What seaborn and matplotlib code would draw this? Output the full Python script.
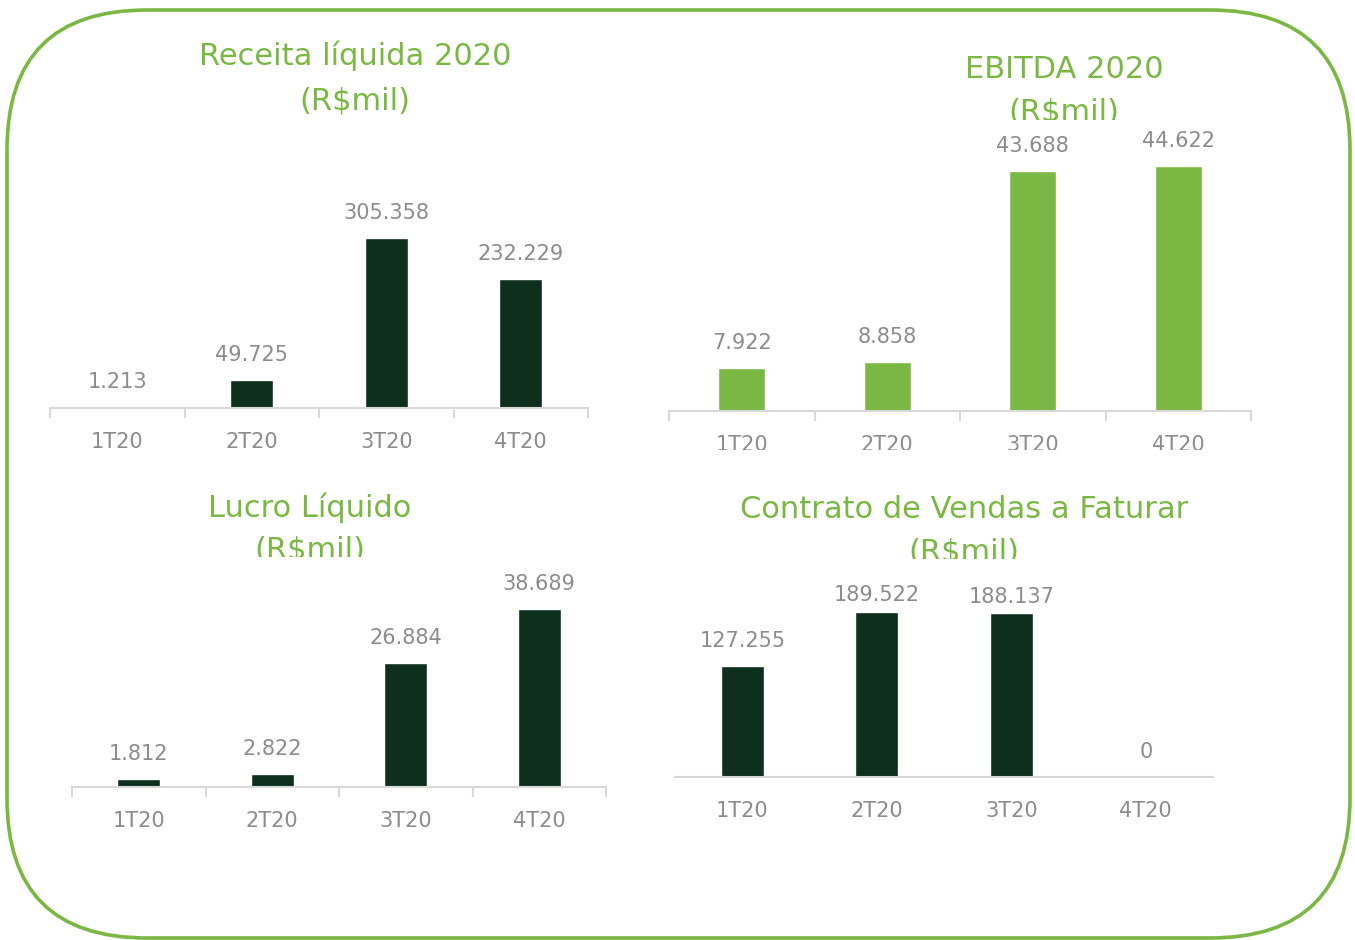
import matplotlib
matplotlib.use("Agg")
import matplotlib.pyplot as plt
import seaborn as sns
from matplotlib.patches import FancyBboxPatch
from matplotlib.transforms import Bbox, IdentityTransform

# data (R$ mil, shown with "." as thousands separator)
quarters = ["1T20", "2T20", "3T20", "4T20"]
receita = [1213, 49725, 305358, 232229]
ebitda = [7922, 8858, 43688, 44622]
lucro = [1812, 2822, 26884, 38689]
contrato = [127255, 189522, 188137, 0]

title_receita = ["Receita líquida 2020", "(R$mil)"]
title_ebitda = ["EBITDA 2020", "(R$mil)"]
title_lucro = ["Lucro Líquido", "(R$mil)"]
title_contrato = ["Contrato de Vendas a Faturar", "(R$mil)"]

W, H = 1355, 940
GREEN = "#7ab843"
DARK = "#0e2e1e"
GRAY = "#8c8c8c"
LINE = "#d9d9d9"

sns.set_theme(style="white")
plt.rcParams["font.family"] = ["DejaVu Sans"]

fig = plt.figure(figsize=(W / 100, H / 100), dpi=100)
fig.patch.set_facecolor("white")


def fmt(v):
    return f"{v:,}".replace(",", ".")


def clip_above(y_px):
    # keep only what lies above pixel row y_px (counted from the top)
    return Bbox([[0, H - y_px], [W, H]])


def panel(values, title, color, left, right, base, top, tx, ty, tgap,
          title_clip=None, tick_clip=None, ticks=True, label_off=None):
    ax = fig.add_axes([left / W, 1 - base / H, (right - left) / W, (base - top) / H])
    sns.barplot(x=quarters, y=values, color=color, width=0.32, saturation=1,
                ax=ax)
    ax.set_xlim(-0.5, 3.5)
    ax.set_ylim(0, max(values))
    ax.set_xlabel("")
    ax.set_ylabel("")
    ax.set_yticks([])
    for s in ["top", "left", "right"]:
        ax.spines[s].set_visible(False)
    ax.spines["bottom"].set_color(LINE)
    ax.spines["bottom"].set_linewidth(1.5)
    ax.patch.set_alpha(0)
    ax.tick_params(axis="x", which="major", length=0, pad=17,
                   labelsize=15, labelcolor=GRAY)
    if ticks:
        ax.set_xticks([-0.5, 0.5, 1.5, 2.5, 3.5], minor=True)
        ax.tick_params(axis="x", which="minor", length=7, width=1.5,
                       color=LINE, direction="out", bottom=True)
    for i, v in enumerate(values):
        off = 18 if label_off is None else label_off[i]
        ax.annotate(fmt(v), xy=(i, v), xytext=(0, off), textcoords="offset points",
                    ha="center", va="center", fontsize=15, color=GRAY)
    if tick_clip is not None:
        for lab in ax.get_xticklabels():
            lab.set_clip_box(clip_above(tick_clip))
            lab.set_clip_on(True)
    for k, line in enumerate(title):
        t = fig.text(tx / W, 1 - (ty + k * tgap) / H, line, ha="center",
                     va="center", fontsize=22, color=GREEN)
        if title_clip is not None:
            t.set_clip_box(clip_above(title_clip))
            t.set_clip_on(True)
    return ax


panel(receita, title_receita, DARK, 50, 588, 408, 238, 355, 56, 45)
panel(ebitda, title_ebitda, GREEN, 669, 1251, 411, 166, 1064, 70, 42,
      title_clip=120, tick_clip=450)
panel(lucro, title_lucro, DARK, 72, 606, 787, 609, 310, 508, 42,
      title_clip=557)
panel(contrato, title_contrato, DARK, 675, 1213, 777, 612, 964, 510, 42,
      title_clip=559, ticks=False, label_off=[18, 12, 12, 18])

# rounded green frame
frame = FancyBboxPatch((7, 2), 1343, 928, boxstyle="round,pad=0,rounding_size=140",
                       transform=IdentityTransform(), facecolor="none",
                       edgecolor=GREEN, linewidth=2.6)
fig.patches.append(frame)

fig.savefig("out.png", dpi=100, facecolor="white")
